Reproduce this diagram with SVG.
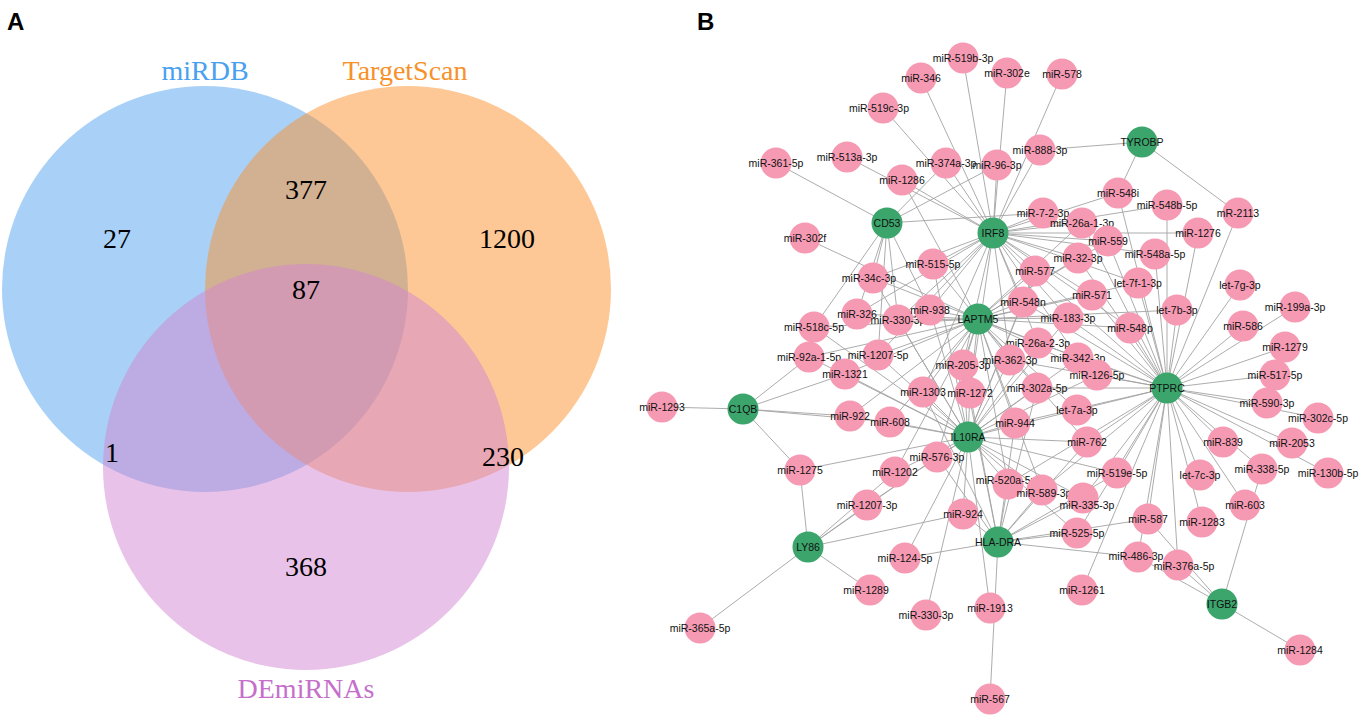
<svg xmlns="http://www.w3.org/2000/svg" width="1362" height="721" viewBox="0 0 1362 721">
<style>
.panel{font-family:"Liberation Sans",Arial,sans-serif;font-weight:bold;font-size:24px;fill:#000}
.vc{opacity:0.5}
.vn{font-family:"Liberation Serif","Times New Roman",serif;font-size:28px;fill:#000;text-anchor:middle}
.vl{font-family:"Liberation Serif","Times New Roman",serif;font-size:28px;text-anchor:middle}
.edge line{stroke:#a3a3a3;stroke-width:0.9}
.mi circle{fill:#f69ab4}
.gene circle{fill:#3ba56c}
.mi text,.gene text{font-family:"Liberation Sans",Arial,sans-serif;font-size:10.5px;fill:#111;text-anchor:middle}
</style>
<rect width="1362" height="721" fill="#fff"/>
<text class="panel" x="7" y="30">A</text>
<text class="panel" x="697" y="30">B</text>
<g id="venn">
<circle class="vc" cx="205" cy="289" r="203" fill="#53a3ef"/>
<circle class="vc" cx="408" cy="289" r="203" fill="#fb912d"/>
<circle class="vc" cx="306" cy="467" r="203" fill="#d185d1"/>
<text class="vl" x="205" y="80" fill="#49a0ef">miRDB</text>
<text class="vl" x="405" y="80" fill="#f6912c">TargetScan</text>
<text class="vl" x="306" y="698" fill="#c56fcb">DEmiRNAs</text>
<text class="vn" x="117" y="248">27</text>
<text class="vn" x="306" y="199">377</text>
<text class="vn" x="507" y="248">1200</text>
<text class="vn" x="306" y="299">87</text>
<text class="vn" x="112" y="462">1</text>
<text class="vn" x="503" y="466">230</text>
<text class="vn" x="306" y="576">368</text>
</g>
<g id="edges" class="edge">
<line x1="963" y1="58" x2="993" y2="233"/>
<line x1="921" y1="78" x2="993" y2="233"/>
<line x1="1007" y1="73" x2="993" y2="233"/>
<line x1="1062" y1="74" x2="993" y2="233"/>
<line x1="883" y1="108" x2="993" y2="233"/>
<line x1="1040" y1="150" x2="993" y2="233"/>
<line x1="1040" y1="150" x2="1142" y2="142"/>
<line x1="946" y1="163" x2="993" y2="233"/>
<line x1="946" y1="163" x2="887" y2="223"/>
<line x1="997" y1="165" x2="993" y2="233"/>
<line x1="997" y1="165" x2="887" y2="223"/>
<line x1="902" y1="180" x2="993" y2="233"/>
<line x1="902" y1="180" x2="978" y2="319"/>
<line x1="776" y1="163" x2="887" y2="223"/>
<line x1="847" y1="157" x2="993" y2="233"/>
<line x1="805" y1="238" x2="978" y2="319"/>
<line x1="1043" y1="213" x2="993" y2="233"/>
<line x1="1043" y1="213" x2="887" y2="223"/>
<line x1="1082" y1="223" x2="993" y2="233"/>
<line x1="1082" y1="223" x2="978" y2="319"/>
<line x1="1082" y1="223" x2="1167" y2="388"/>
<line x1="1118" y1="193" x2="1142" y2="142"/>
<line x1="1118" y1="193" x2="993" y2="233"/>
<line x1="1118" y1="193" x2="1167" y2="388"/>
<line x1="1167" y1="205" x2="993" y2="233"/>
<line x1="1167" y1="205" x2="1167" y2="388"/>
<line x1="1198" y1="233" x2="993" y2="233"/>
<line x1="1198" y1="233" x2="1167" y2="388"/>
<line x1="1238" y1="213" x2="1142" y2="142"/>
<line x1="1238" y1="213" x2="1167" y2="388"/>
<line x1="1108" y1="241" x2="993" y2="233"/>
<line x1="1108" y1="241" x2="978" y2="319"/>
<line x1="1108" y1="241" x2="1167" y2="388"/>
<line x1="1078" y1="258" x2="993" y2="233"/>
<line x1="1078" y1="258" x2="978" y2="319"/>
<line x1="1078" y1="258" x2="1167" y2="388"/>
<line x1="1155" y1="254" x2="993" y2="233"/>
<line x1="1155" y1="254" x2="1167" y2="388"/>
<line x1="1138" y1="283" x2="993" y2="233"/>
<line x1="1138" y1="283" x2="978" y2="319"/>
<line x1="1138" y1="283" x2="1167" y2="388"/>
<line x1="1035" y1="271" x2="993" y2="233"/>
<line x1="1035" y1="271" x2="978" y2="319"/>
<line x1="1035" y1="271" x2="1167" y2="388"/>
<line x1="1035" y1="271" x2="968" y2="437"/>
<line x1="933" y1="264" x2="993" y2="233"/>
<line x1="933" y1="264" x2="978" y2="319"/>
<line x1="933" y1="264" x2="968" y2="437"/>
<line x1="873" y1="278" x2="887" y2="223"/>
<line x1="873" y1="278" x2="993" y2="233"/>
<line x1="873" y1="278" x2="978" y2="319"/>
<line x1="873" y1="278" x2="968" y2="437"/>
<line x1="1023" y1="302" x2="993" y2="233"/>
<line x1="1023" y1="302" x2="978" y2="319"/>
<line x1="1023" y1="302" x2="1167" y2="388"/>
<line x1="1023" y1="302" x2="968" y2="437"/>
<line x1="1092" y1="295" x2="993" y2="233"/>
<line x1="1092" y1="295" x2="978" y2="319"/>
<line x1="1092" y1="295" x2="1167" y2="388"/>
<line x1="1068" y1="318" x2="993" y2="233"/>
<line x1="1068" y1="318" x2="978" y2="319"/>
<line x1="1068" y1="318" x2="1167" y2="388"/>
<line x1="1068" y1="318" x2="968" y2="437"/>
<line x1="1130" y1="328" x2="993" y2="233"/>
<line x1="1130" y1="328" x2="978" y2="319"/>
<line x1="1130" y1="328" x2="1167" y2="388"/>
<line x1="1177" y1="310" x2="978" y2="319"/>
<line x1="1177" y1="310" x2="1167" y2="388"/>
<line x1="1240" y1="285" x2="1167" y2="388"/>
<line x1="1295" y1="307" x2="1167" y2="388"/>
<line x1="1243" y1="326" x2="1167" y2="388"/>
<line x1="1285" y1="347" x2="1167" y2="388"/>
<line x1="1275" y1="375" x2="1167" y2="388"/>
<line x1="857" y1="314" x2="887" y2="223"/>
<line x1="857" y1="314" x2="993" y2="233"/>
<line x1="857" y1="314" x2="978" y2="319"/>
<line x1="898" y1="320" x2="887" y2="223"/>
<line x1="898" y1="320" x2="993" y2="233"/>
<line x1="898" y1="320" x2="978" y2="319"/>
<line x1="898" y1="320" x2="968" y2="437"/>
<line x1="930" y1="310" x2="887" y2="223"/>
<line x1="930" y1="310" x2="993" y2="233"/>
<line x1="930" y1="310" x2="978" y2="319"/>
<line x1="930" y1="310" x2="968" y2="437"/>
<line x1="814" y1="327" x2="887" y2="223"/>
<line x1="814" y1="327" x2="978" y2="319"/>
<line x1="814" y1="327" x2="968" y2="437"/>
<line x1="809" y1="357" x2="743" y2="409"/>
<line x1="809" y1="357" x2="978" y2="319"/>
<line x1="809" y1="357" x2="968" y2="437"/>
<line x1="845" y1="374" x2="743" y2="409"/>
<line x1="845" y1="374" x2="978" y2="319"/>
<line x1="845" y1="374" x2="968" y2="437"/>
<line x1="878" y1="355" x2="887" y2="223"/>
<line x1="878" y1="355" x2="993" y2="233"/>
<line x1="878" y1="355" x2="978" y2="319"/>
<line x1="878" y1="355" x2="968" y2="437"/>
<line x1="1038" y1="343" x2="993" y2="233"/>
<line x1="1038" y1="343" x2="978" y2="319"/>
<line x1="1038" y1="343" x2="1167" y2="388"/>
<line x1="1038" y1="343" x2="968" y2="437"/>
<line x1="1078" y1="358" x2="993" y2="233"/>
<line x1="1078" y1="358" x2="978" y2="319"/>
<line x1="1078" y1="358" x2="1167" y2="388"/>
<line x1="1078" y1="358" x2="968" y2="437"/>
<line x1="1097" y1="375" x2="978" y2="319"/>
<line x1="1097" y1="375" x2="1167" y2="388"/>
<line x1="1097" y1="375" x2="968" y2="437"/>
<line x1="1010" y1="360" x2="993" y2="233"/>
<line x1="1010" y1="360" x2="978" y2="319"/>
<line x1="1010" y1="360" x2="1167" y2="388"/>
<line x1="1010" y1="360" x2="968" y2="437"/>
<line x1="963" y1="365" x2="993" y2="233"/>
<line x1="963" y1="365" x2="978" y2="319"/>
<line x1="963" y1="365" x2="968" y2="437"/>
<line x1="963" y1="365" x2="998" y2="542"/>
<line x1="923" y1="392" x2="993" y2="233"/>
<line x1="923" y1="392" x2="978" y2="319"/>
<line x1="923" y1="392" x2="968" y2="437"/>
<line x1="923" y1="392" x2="998" y2="542"/>
<line x1="970" y1="393" x2="993" y2="233"/>
<line x1="970" y1="393" x2="978" y2="319"/>
<line x1="970" y1="393" x2="968" y2="437"/>
<line x1="970" y1="393" x2="998" y2="542"/>
<line x1="1037" y1="388" x2="978" y2="319"/>
<line x1="1037" y1="388" x2="1167" y2="388"/>
<line x1="1037" y1="388" x2="968" y2="437"/>
<line x1="1037" y1="388" x2="998" y2="542"/>
<line x1="1077" y1="410" x2="978" y2="319"/>
<line x1="1077" y1="410" x2="1167" y2="388"/>
<line x1="1077" y1="410" x2="968" y2="437"/>
<line x1="1015" y1="423" x2="978" y2="319"/>
<line x1="1015" y1="423" x2="1167" y2="388"/>
<line x1="1015" y1="423" x2="968" y2="437"/>
<line x1="1015" y1="423" x2="998" y2="542"/>
<line x1="1087" y1="442" x2="978" y2="319"/>
<line x1="1087" y1="442" x2="1167" y2="388"/>
<line x1="1087" y1="442" x2="968" y2="437"/>
<line x1="1087" y1="442" x2="998" y2="542"/>
<line x1="890" y1="422" x2="743" y2="409"/>
<line x1="890" y1="422" x2="978" y2="319"/>
<line x1="890" y1="422" x2="968" y2="437"/>
<line x1="850" y1="416" x2="743" y2="409"/>
<line x1="850" y1="416" x2="978" y2="319"/>
<line x1="850" y1="416" x2="968" y2="437"/>
<line x1="662" y1="407" x2="743" y2="409"/>
<line x1="800" y1="470" x2="743" y2="409"/>
<line x1="800" y1="470" x2="808" y2="547"/>
<line x1="800" y1="470" x2="968" y2="437"/>
<line x1="937" y1="457" x2="978" y2="319"/>
<line x1="937" y1="457" x2="968" y2="437"/>
<line x1="937" y1="457" x2="998" y2="542"/>
<line x1="937" y1="457" x2="808" y2="547"/>
<line x1="895" y1="472" x2="978" y2="319"/>
<line x1="895" y1="472" x2="968" y2="437"/>
<line x1="895" y1="472" x2="808" y2="547"/>
<line x1="867" y1="505" x2="968" y2="437"/>
<line x1="867" y1="505" x2="808" y2="547"/>
<line x1="1008" y1="484" x2="978" y2="319"/>
<line x1="1008" y1="484" x2="1167" y2="388"/>
<line x1="1008" y1="484" x2="968" y2="437"/>
<line x1="1008" y1="484" x2="998" y2="542"/>
<line x1="1042" y1="490" x2="978" y2="319"/>
<line x1="1042" y1="490" x2="1167" y2="388"/>
<line x1="1042" y1="490" x2="968" y2="437"/>
<line x1="1042" y1="490" x2="998" y2="542"/>
<line x1="1083" y1="498" x2="1167" y2="388"/>
<line x1="1083" y1="498" x2="968" y2="437"/>
<line x1="1083" y1="498" x2="998" y2="542"/>
<line x1="1117" y1="473" x2="1167" y2="388"/>
<line x1="1117" y1="473" x2="968" y2="437"/>
<line x1="1117" y1="473" x2="998" y2="542"/>
<line x1="963" y1="514" x2="968" y2="437"/>
<line x1="963" y1="514" x2="808" y2="547"/>
<line x1="963" y1="514" x2="998" y2="542"/>
<line x1="1077" y1="533" x2="1167" y2="388"/>
<line x1="1077" y1="533" x2="968" y2="437"/>
<line x1="1077" y1="533" x2="998" y2="542"/>
<line x1="905" y1="558" x2="968" y2="437"/>
<line x1="905" y1="558" x2="998" y2="542"/>
<line x1="1267" y1="403" x2="1167" y2="388"/>
<line x1="1318" y1="418" x2="1167" y2="388"/>
<line x1="1223" y1="442" x2="1167" y2="388"/>
<line x1="1292" y1="443" x2="1167" y2="388"/>
<line x1="1262" y1="469" x2="1167" y2="388"/>
<line x1="1262" y1="469" x2="1222" y2="604"/>
<line x1="1328" y1="473" x2="1167" y2="388"/>
<line x1="1200" y1="475" x2="1167" y2="388"/>
<line x1="1245" y1="505" x2="1167" y2="388"/>
<line x1="1148" y1="519" x2="1167" y2="388"/>
<line x1="1148" y1="519" x2="998" y2="542"/>
<line x1="1148" y1="519" x2="1222" y2="604"/>
<line x1="1202" y1="522" x2="1167" y2="388"/>
<line x1="1138" y1="557" x2="1167" y2="388"/>
<line x1="1138" y1="557" x2="998" y2="542"/>
<line x1="1138" y1="557" x2="1222" y2="604"/>
<line x1="1178" y1="565" x2="1167" y2="388"/>
<line x1="1178" y1="565" x2="1222" y2="604"/>
<line x1="870" y1="590" x2="808" y2="547"/>
<line x1="926" y1="615" x2="968" y2="437"/>
<line x1="990" y1="608" x2="968" y2="437"/>
<line x1="990" y1="699" x2="998" y2="542"/>
<line x1="1082" y1="590" x2="1167" y2="388"/>
<line x1="1300" y1="650" x2="1222" y2="604"/>
<line x1="700" y1="628" x2="808" y2="547"/>
</g>
<g id="mirnas">
<g id="m-519b-3p" class="mi"><circle cx="963" cy="58" r="15.5"/><text x="963" y="62">miR-519b-3p</text></g>
<g id="m-346" class="mi"><circle cx="921" cy="78" r="15.5"/><text x="921" y="82">miR-346</text></g>
<g id="m-302e" class="mi"><circle cx="1007" cy="73" r="15.5"/><text x="1007" y="77">miR-302e</text></g>
<g id="m-578" class="mi"><circle cx="1062" cy="74" r="15.5"/><text x="1062" y="78">miR-578</text></g>
<g id="m-519c-3p" class="mi"><circle cx="883" cy="108" r="15.5"/><text x="879" y="112">miR-519c-3p</text></g>
<g id="m-888-3p" class="mi"><circle cx="1040" cy="150" r="15.5"/><text x="1040" y="154">miR-888-3p</text></g>
<g id="m-374a-3p" class="mi"><circle cx="946" cy="163" r="15.5"/><text x="946" y="167">miR-374a-3p</text></g>
<g id="m-96-3p" class="mi"><circle cx="997" cy="165" r="15.5"/><text x="997" y="169">miR-96-3p</text></g>
<g id="m-1286" class="mi"><circle cx="902" cy="180" r="15.5"/><text x="902" y="184">miR-1286</text></g>
<g id="m-361-5p" class="mi"><circle cx="776" cy="163" r="15.5"/><text x="776" y="167">miR-361-5p</text></g>
<g id="m-513a-3p" class="mi"><circle cx="847" cy="157" r="15.5"/><text x="847" y="161">miR-513a-3p</text></g>
<g id="m-302f" class="mi"><circle cx="805" cy="238" r="15.5"/><text x="805" y="242">miR-302f</text></g>
<g id="m-548i" class="mi"><circle cx="1118" cy="193" r="15.5"/><text x="1118" y="197">miR-548i</text></g>
<g id="m-548b-5p" class="mi"><circle cx="1167" cy="205" r="15.5"/><text x="1167" y="209">miR-548b-5p</text></g>
<g id="m-2113" class="mi"><circle cx="1238" cy="213" r="15.5"/><text x="1238" y="217">mR-2113</text></g>
<g id="m-1276" class="mi"><circle cx="1198" cy="233" r="15.5"/><text x="1198" y="237">miR-1276</text></g>
<g id="m-7-2-3p" class="mi"><circle cx="1043" cy="213" r="15.5"/><text x="1043" y="217">miR-7-2-3p</text></g>
<g id="m-26a-1-3p" class="mi"><circle cx="1082" cy="223" r="15.5"/><text x="1082" y="227">miR-26a-1-3p</text></g>
<g id="m-559" class="mi"><circle cx="1108" cy="241" r="15.5"/><text x="1108" y="245">miR-559</text></g>
<g id="m-32-3p" class="mi"><circle cx="1078" cy="258" r="15.5"/><text x="1078" y="262">miR-32-3p</text></g>
<g id="m-548a-5p" class="mi"><circle cx="1155" cy="254" r="15.5"/><text x="1155" y="258">miR-548a-5p</text></g>
<g id="m-let-7f-1-3p" class="mi"><circle cx="1138" cy="283" r="15.5"/><text x="1138" y="287">let-7f-1-3p</text></g>
<g id="m-let-7g-3p" class="mi"><circle cx="1240" cy="285" r="15.5"/><text x="1240" y="289">let-7g-3p</text></g>
<g id="m-199a-3p" class="mi"><circle cx="1295" cy="307" r="15.5"/><text x="1295" y="311">miR-199a-3p</text></g>
<g id="m-577" class="mi"><circle cx="1035" cy="271" r="15.5"/><text x="1035" y="275">miR-577</text></g>
<g id="m-515-5p" class="mi"><circle cx="933" cy="264" r="15.5"/><text x="933" y="268">miR-515-5p</text></g>
<g id="m-34c-3p" class="mi"><circle cx="873" cy="278" r="15.5"/><text x="869" y="282">miR-34c-3p</text></g>
<g id="m-571" class="mi"><circle cx="1092" cy="295" r="15.5"/><text x="1092" y="299">miR-571</text></g>
<g id="m-548n" class="mi"><circle cx="1023" cy="302" r="15.5"/><text x="1023" y="306">miR-548n</text></g>
<g id="m-let-7b-3p" class="mi"><circle cx="1177" cy="310" r="15.5"/><text x="1177" y="314">let-7b-3p</text></g>
<g id="m-548p" class="mi"><circle cx="1130" cy="328" r="15.5"/><text x="1130" y="332">miR-548p</text></g>
<g id="m-183-3p" class="mi"><circle cx="1068" cy="318" r="15.5"/><text x="1068" y="322">miR-183-3p</text></g>
<g id="m-586" class="mi"><circle cx="1243" cy="326" r="15.5"/><text x="1243" y="330">miR-586</text></g>
<g id="m-1279" class="mi"><circle cx="1285" cy="347" r="15.5"/><text x="1285" y="351">miR-1279</text></g>
<g id="m-517-5p" class="mi"><circle cx="1275" cy="375" r="15.5"/><text x="1275" y="379">miR-517-5p</text></g>
<g id="m-326" class="mi"><circle cx="857" cy="314" r="15.5"/><text x="857" y="318">miR-326</text></g>
<g id="m-330-3p-a" class="mi"><circle cx="898" cy="320" r="15.5"/><text x="898" y="324">miR-330-3p</text></g>
<g id="m-938" class="mi"><circle cx="930" cy="310" r="15.5"/><text x="930" y="314">miR-938</text></g>
<g id="m-518c-5p" class="mi"><circle cx="814" cy="327" r="15.5"/><text x="814" y="331">miR-518c-5p</text></g>
<g id="m-92a-1-5p" class="mi"><circle cx="809" cy="357" r="15.5"/><text x="809" y="361">miR-92a-1-5p</text></g>
<g id="m-1207-5p" class="mi"><circle cx="878" cy="355" r="15.5"/><text x="878" y="359">miR-1207-5p</text></g>
<g id="m-1321" class="mi"><circle cx="845" cy="374" r="15.5"/><text x="845" y="378">miR-1321</text></g>
<g id="m-26a-2-3p" class="mi"><circle cx="1038" cy="343" r="15.5"/><text x="1038" y="347">miR-26a-2-3p</text></g>
<g id="m-362-3p" class="mi"><circle cx="1010" cy="360" r="15.5"/><text x="1010" y="364">miR-362-3p</text></g>
<g id="m-342-3p" class="mi"><circle cx="1078" cy="358" r="15.5"/><text x="1078" y="362">miR-342-3p</text></g>
<g id="m-126-5p" class="mi"><circle cx="1097" cy="375" r="15.5"/><text x="1097" y="379">miR-126-5p</text></g>
<g id="m-205-3p" class="mi"><circle cx="963" cy="365" r="15.5"/><text x="963" y="369">miR-205-3p</text></g>
<g id="m-1303" class="mi"><circle cx="923" cy="392" r="15.5"/><text x="923" y="396">miR-1303</text></g>
<g id="m-1272" class="mi"><circle cx="970" cy="393" r="15.5"/><text x="970" y="397">miR-1272</text></g>
<g id="m-302a-5p" class="mi"><circle cx="1037" cy="388" r="15.5"/><text x="1037" y="392">miR-302a-5p</text></g>
<g id="m-let-7a-3p" class="mi"><circle cx="1077" cy="410" r="15.5"/><text x="1077" y="414">let-7a-3p</text></g>
<g id="m-944" class="mi"><circle cx="1015" cy="423" r="15.5"/><text x="1015" y="427">miR-944</text></g>
<g id="m-762" class="mi"><circle cx="1087" cy="442" r="15.5"/><text x="1087" y="446">miR-762</text></g>
<g id="m-608" class="mi"><circle cx="890" cy="422" r="15.5"/><text x="890" y="426">miR-608</text></g>
<g id="m-922" class="mi"><circle cx="850" cy="416" r="15.5"/><text x="850" y="420">miR-922</text></g>
<g id="m-1293" class="mi"><circle cx="662" cy="407" r="15.5"/><text x="662" y="411">miR-1293</text></g>
<g id="m-1275" class="mi"><circle cx="800" cy="470" r="15.5"/><text x="800" y="474">miR-1275</text></g>
<g id="m-576-3p" class="mi"><circle cx="937" cy="457" r="15.5"/><text x="937" y="461">miR-576-3p</text></g>
<g id="m-1202" class="mi"><circle cx="895" cy="472" r="15.5"/><text x="895" y="476">miR-1202</text></g>
<g id="m-1207-3p" class="mi"><circle cx="867" cy="505" r="15.5"/><text x="867" y="509">miR-1207-3p</text></g>
<g id="m-520a-5p" class="mi"><circle cx="1008" cy="484" r="15.5"/><text x="1006" y="484">miR-520a-5p</text></g>
<g id="m-589-3p" class="mi"><circle cx="1042" cy="490" r="15.5"/><text x="1044" y="497">miR-589-3p</text></g>
<g id="m-335-3p" class="mi"><circle cx="1083" cy="498" r="15.5"/><text x="1087" y="509">miR-335-3p</text></g>
<g id="m-519e-5p" class="mi"><circle cx="1117" cy="473" r="15.5"/><text x="1117" y="477">miR-519e-5p</text></g>
<g id="m-924" class="mi"><circle cx="963" cy="514" r="15.5"/><text x="963" y="518">miR-924</text></g>
<g id="m-525-5p" class="mi"><circle cx="1077" cy="533" r="15.5"/><text x="1077" y="537">miR-525-5p</text></g>
<g id="m-124-5p" class="mi"><circle cx="905" cy="558" r="15.5"/><text x="905" y="562">miR-124-5p</text></g>
<g id="m-590-3p" class="mi"><circle cx="1267" cy="403" r="15.5"/><text x="1267" y="407">miR-590-3p</text></g>
<g id="m-302c-5p" class="mi"><circle cx="1318" cy="418" r="15.5"/><text x="1318" y="422">miR-302c-5p</text></g>
<g id="m-839" class="mi"><circle cx="1223" cy="442" r="15.5"/><text x="1223" y="446">miR-839</text></g>
<g id="m-2053" class="mi"><circle cx="1292" cy="443" r="15.5"/><text x="1292" y="447">miR-2053</text></g>
<g id="m-338-5p" class="mi"><circle cx="1262" cy="469" r="15.5"/><text x="1262" y="473">miR-338-5p</text></g>
<g id="m-130b-5p" class="mi"><circle cx="1328" cy="473" r="15.5"/><text x="1328" y="477">miR-130b-5p</text></g>
<g id="m-let-7c-3p" class="mi"><circle cx="1200" cy="475" r="15.5"/><text x="1200" y="479">let-7c-3p</text></g>
<g id="m-603" class="mi"><circle cx="1245" cy="505" r="15.5"/><text x="1245" y="509">miR-603</text></g>
<g id="m-587" class="mi"><circle cx="1148" cy="519" r="15.5"/><text x="1148" y="523">miR-587</text></g>
<g id="m-1283" class="mi"><circle cx="1202" cy="522" r="15.5"/><text x="1202" y="526">miR-1283</text></g>
<g id="m-486-3p" class="mi"><circle cx="1138" cy="557" r="15.5"/><text x="1136" y="560">miR-486-3p</text></g>
<g id="m-376a-5p" class="mi"><circle cx="1178" cy="565" r="15.5"/><text x="1184" y="570">miR-376a-5p</text></g>
<g id="m-1289" class="mi"><circle cx="870" cy="590" r="15.5"/><text x="866" y="594">miR-1289</text></g>
<g id="m-330-3p-b" class="mi"><circle cx="926" cy="615" r="15.5"/><text x="926" y="619">miR-330-3p</text></g>
<g id="m-1913" class="mi"><circle cx="990" cy="608" r="15.5"/><text x="990" y="612">miR-1913</text></g>
<g id="m-567" class="mi"><circle cx="990" cy="699" r="15.5"/><text x="990" y="703">miR-567</text></g>
<g id="m-1261" class="mi"><circle cx="1082" cy="590" r="15.5"/><text x="1082" y="594">miR-1261</text></g>
<g id="m-1284" class="mi"><circle cx="1300" cy="650" r="15.5"/><text x="1300" y="654">miR-1284</text></g>
<g id="m-365a-5p" class="mi"><circle cx="700" cy="628" r="15.5"/><text x="700" y="632">miR-365a-5p</text></g>
</g>
<g id="genes">
<g id="g-TYROBP" class="gene"><circle cx="1142" cy="142" r="15.5"/><text x="1142" y="146">TYROBP</text></g>
<g id="g-CD53" class="gene"><circle cx="887" cy="223" r="15.5"/><text x="887" y="227">CD53</text></g>
<g id="g-IRF8" class="gene"><circle cx="993" cy="233" r="15.5"/><text x="993" y="237">IRF8</text></g>
<g id="g-LAPTM5" class="gene"><circle cx="978" cy="319" r="15.5"/><text x="978" y="323">LAPTM5</text></g>
<g id="g-PTPRC" class="gene"><circle cx="1167" cy="388" r="15.5"/><text x="1167" y="392">PTPRC</text></g>
<g id="g-C1QB" class="gene"><circle cx="743" cy="409" r="15.5"/><text x="743" y="413">C1QB</text></g>
<g id="g-IL10RA" class="gene"><circle cx="968" cy="437" r="15.5"/><text x="968" y="441">IL10RA</text></g>
<g id="g-LY86" class="gene"><circle cx="808" cy="547" r="15.5"/><text x="808" y="551">LY86</text></g>
<g id="g-HLA-DRA" class="gene"><circle cx="998" cy="542" r="15.5"/><text x="998" y="546">HLA-DRA</text></g>
<g id="g-ITGB2" class="gene"><circle cx="1222" cy="604" r="15.5"/><text x="1222" y="608">ITGB2</text></g>
</g>
</svg>
